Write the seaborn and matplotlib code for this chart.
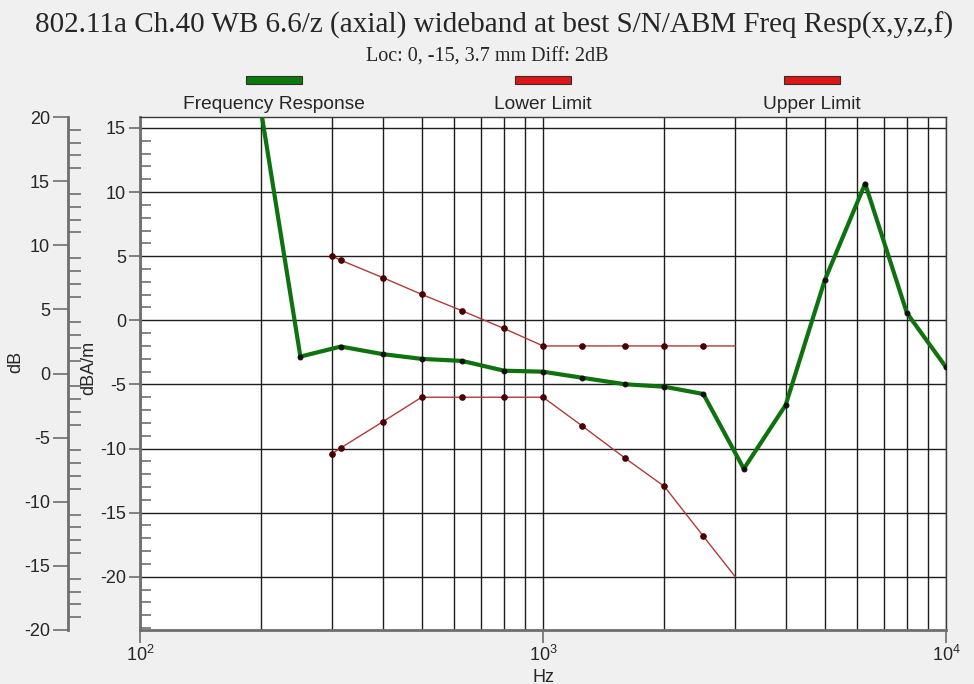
import matplotlib
matplotlib.use("Agg")
import matplotlib.pyplot as plt
from matplotlib.patches import Rectangle
from matplotlib.ticker import MultipleLocator, LogLocator, NullFormatter
import pandas as pd
import seaborn as sns

# frequency response, dBA/m
resp_hz = [200, 250, 315, 400, 500, 630, 800, 1000, 1250, 1600, 2000,
           2500, 3150, 4000, 5000, 6300, 8000, 10000]
resp_db = [16.2, -2.83, -2.05, -2.64, -3.01, -3.17, -3.93, -4.01, -4.48,
           -4.99, -5.18, -5.75, -11.58, -6.61, 3.11, 10.66, 0.56, -3.66]

# limit curves (last point at 3 kHz has no marker)
limit_hz = [300, 315, 400, 500, 630, 800, 1000, 1250, 1600, 2000, 2500, 3000]
upper_db = [5.0, 4.68, 3.33, 2.02, 0.74, -0.64, -2.0, -2.0, -2.0, -2.0, -2.0, -2.0]
lower_db = [-10.39, -9.95, -7.92, -6.0, -6.0, -6.0, -6.0, -8.23, -10.76,
            -12.95, -16.84, -20.0]

legend_names = ["Frequency Response", "Lower Limit", "Upper Limit"]

GREEN = "#0E720E"
LIMIT = "#B03A3A"
AXGRAY = "#6E6E6E"

sns.set_theme(style="white")
plt.rcParams["font.family"] = ["Liberation Sans", "DejaVu Sans"]
plt.rcParams["mathtext.fontset"] = "custom"
plt.rcParams["mathtext.rm"] = "Liberation Sans"
plt.rcParams["mathtext.it"] = "Liberation Sans"
plt.rcParams["axes.unicode_minus"] = False

resp = pd.DataFrame({"hz": resp_hz, "db": resp_db})
limits = pd.DataFrame({"hz": limit_hz, "upper": upper_db, "lower": lower_db})

fig = plt.figure(figsize=(9.74, 6.84), dpi=100, facecolor="#F0F0F0")
ax = fig.add_axes([140 / 974, 54 / 684, 806 / 974, 513 / 684])
ax.set_facecolor("white")
ax.set_xscale("log")

sns.lineplot(data=limits, x="hz", y="upper", ax=ax, color=LIMIT, linewidth=1.0,
             marker="o", markersize=4, markerfacecolor="#4A0000",
             markeredgecolor="#4A0000", markevery=list(range(len(limit_hz) - 1)),
             estimator=None, sort=False, zorder=3)
sns.lineplot(data=limits, x="hz", y="lower", ax=ax, color=LIMIT, linewidth=1.0,
             marker="o", markersize=4, markerfacecolor="#4A0000",
             markeredgecolor="#4A0000", markevery=list(range(len(limit_hz) - 1)),
             estimator=None, sort=False, zorder=3)
sns.lineplot(data=resp, x="hz", y="db", ax=ax, color=GREEN, linewidth=3.0,
             marker="o", markersize=3.5, markerfacecolor="#101010",
             markeredgecolor="#101010", estimator=None, sort=False, zorder=4)

ax.set_xlim(100, 10000)
ax.set_ylim(-24.15, 15.85)
ax.set_xlabel("")
ax.set_ylabel("")

# x axis
ax.xaxis.set_major_locator(LogLocator(base=10, numticks=5))
ax.xaxis.set_minor_locator(LogLocator(base=10, subs=range(2, 10), numticks=20))
ax.xaxis.set_minor_formatter(NullFormatter())
ax.tick_params(axis="x", which="major", direction="out", length=9, width=1.2,
               color=AXGRAY, labelsize=13, pad=2, bottom=True)
ax.tick_params(axis="x", which="minor", length=0)

# inner y axis (dBA/m)
ax.yaxis.set_major_locator(MultipleLocator(5))
ax.yaxis.set_minor_locator(MultipleLocator(1))
ax.tick_params(axis="y", which="major", direction="out", length=8, width=1.2,
               color=AXGRAY, labelsize=13, pad=2, left=True)
ax.tick_params(axis="y", which="minor", direction="in", length=8, width=1.2,
               color=AXGRAY, left=True)

ax.set_axisbelow(True)
ax.xaxis.grid(True, which="both", color="#1E1E1E", linewidth=1.0)
ax.yaxis.grid(True, which="major", color="#1E1E1E", linewidth=1.0)
for side in ["left", "bottom"]:
    ax.spines[side].set_color(AXGRAY)
    ax.spines[side].set_linewidth(2.0)
for side in ["top", "right"]:
    ax.spines[side].set_color("#3A3A3A")
    ax.spines[side].set_linewidth(1.0)

# outer y axis (dB)
ax2 = ax.twinx()
ax2.set_ylim(-20, 20)
for side in ["top", "right", "bottom"]:
    ax2.spines[side].set_visible(False)
ax2.spines["left"].set_visible(True)
ax2.spines["left"].set_position(("axes", (68 - 140) / 806))
ax2.spines["left"].set_color(AXGRAY)
ax2.spines["left"].set_linewidth(2.0)
ax2.yaxis.tick_left()
ax2.yaxis.set_major_locator(MultipleLocator(5))
ax2.yaxis.set_minor_locator(MultipleLocator(1))
ax2.tick_params(axis="y", which="major", direction="out", length=11, width=1.2,
                color=AXGRAY, labelsize=13, pad=2, left=True, right=False)
ax2.tick_params(axis="y", which="minor", direction="in", length=9, width=1.2,
                color=AXGRAY, left=True, right=False)
ax2.grid(False)

# axis titles
fig.text(16 / 974, 1 - 362 / 684, "dB", rotation=90, ha="center", va="center",
         fontsize=13)
fig.text(89 / 974, 1 - 368 / 684, "dBA/m", rotation=90, ha="center", va="center",
         fontsize=13)
fig.text(543 / 974, 1 - 677 / 684, "Hz", ha="center", va="center", fontsize=13)

# titles
fig.text(494 / 974, 1 - 33 / 684,
         "802.11a Ch.40 WB 6.6/z (axial) wideband at best S/N/ABM Freq Resp(x,y,z,f)",
         ha="center", va="baseline", fontsize=21, family="Liberation Serif")
fig.text(487 / 974, 1 - 62 / 684, "Loc: 0, -15, 3.7 mm Diff: 2dB",
         ha="center", va="baseline", fontsize=14.5, family="Liberation Serif")

# legend: coloured bar above each name
bar_colors = ["#0A7A0A", "#E01515", "#E01515"]
for i, (name, col) in enumerate(zip(legend_names, bar_colors)):
    cx = 140 + 806 * (i + 0.5) / 3
    fig.add_artist(Rectangle(((cx - 28) / 974, 1 - 84 / 684), 56 / 974, 8 / 684,
                             transform=fig.transFigure, facecolor=col,
                             edgecolor="#303030", linewidth=0.8))
    fig.text(cx / 974, 1 - 109 / 684, name, ha="center", va="baseline",
             fontsize=13.8)

fig.savefig("out.png", dpi=100, facecolor=fig.get_facecolor())
plt.close(fig)
